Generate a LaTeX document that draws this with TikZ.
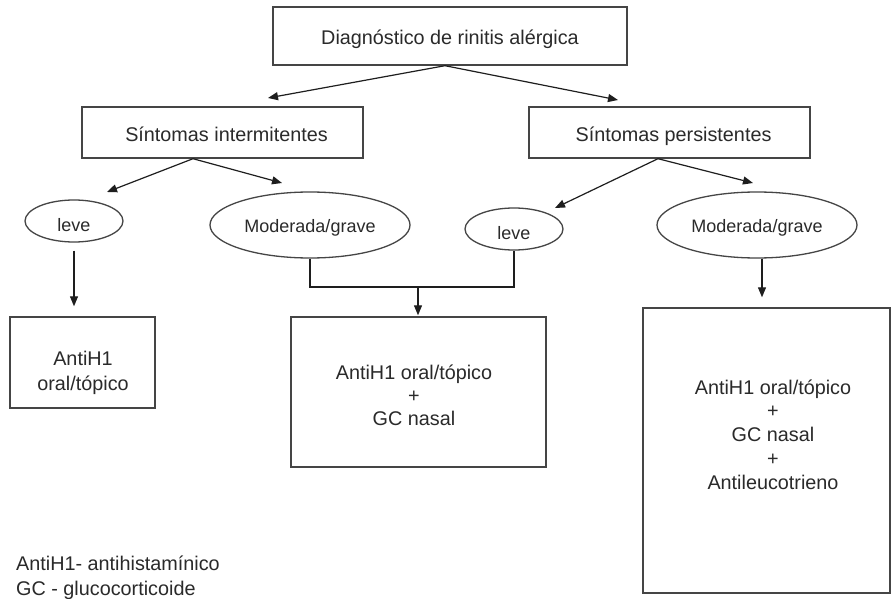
\documentclass[tikz,border=0pt]{standalone}
\usepackage{fontspec}
\setmainfont{Liberation Sans}
\usetikzlibrary{arrows.meta,shapes.geometric,calc}
\definecolor{linec}{HTML}{454545}
\definecolor{arrc}{HTML}{1E1E1E}
\definecolor{txtc}{HTML}{2A2A2A}
\begin{document}
\begin{tikzpicture}[x=1pt,y=-1pt,
  box/.style={draw=linec, line width=1.4pt, rectangle, inner sep=0pt, font=\fontsize{19.8}{24}\selectfont, text=txtc, align=center, text height=20pt, text depth=2pt},
  oval/.style={draw=linec, line width=1.3pt, ellipse, inner sep=0pt, font=\fontsize{18}{21}\selectfont, text=txtc},
  lbl/.style={inner sep=0pt, font=\fontsize{19.8}{24}\selectfont, text=txtc, align=center},
  conn/.style={draw=arrc, line width=1.2pt},
  arr/.style={conn, -{Triangle[length=10pt,width=8pt]}}]
\useasboundingbox[fill=white] (0,0) rectangle (892,599);

% boxes
\node[box, minimum width=354, minimum height=58] (diag) at (450,36) {Diagnóstico de rinitis alérgica};
\node[box, minimum width=281, minimum height=51] (int) at (222.5,132.5) {\hspace*{8pt}Síntomas intermitentes};
\node[box, minimum width=281, minimum height=51] (per) at (669.5,132.5) {\hspace*{8pt}Síntomas persistentes};

% ellipses
\node[oval, minimum width=98, minimum height=42, text height=21pt, text depth=0pt] (leve1) at (74,221) {leve};
\node[oval, minimum width=200, minimum height=66, text height=19pt, text depth=3pt] (mod1) at (310,225) {Moderada/grave};
\node[oval, minimum width=98, minimum height=42, text height=21pt, text depth=0pt] (leve2) at (514,229) {leve};
\node[oval, minimum width=200, minimum height=66, text height=19pt, text depth=3pt] (mod2) at (757,225) {Moderada/grave};

% treatment boxes
\node[box, minimum width=145, minimum height=91] (b1) at (82.5,362.5) {};
\node[lbl] (b1t) at (83,372.5) {AntiH1\\[1pt]oral/tópico};
\node[box, minimum width=255, minimum height=150] (b2) at (418.5,392) {};
\node[lbl, font=\fontsize{19.8}{23}\selectfont] (b2t) at (414,395) {AntiH1 oral/tópico\\+\\GC nasal};
\node[box, minimum width=247, minimum height=285] (b3) at (766.5,450.5) {};
\node[lbl, font=\fontsize{19.8}{23.7}\selectfont] (b3t) at (773,434.5) {AntiH1 oral/tópico\\+\\GC nasal\\+\\Antileucotrieno};

% legend
\node[lbl, anchor=west, align=left, font=\fontsize{19.8}{25}\selectfont] (legend) at (16,577.5) {AntiH1- antihistamínico\\GC - glucocorticoide};

% arrow end points
\coordinate (dL) at (268,98);
\coordinate (dR) at (618,100);
\coordinate (iL) at (107,192);
\coordinate (iR) at (282,183);
\coordinate (pL) at (555,208);
\coordinate (pR) at (753,183);
\coordinate (join) at (418,287);

% connectors
\draw[arr] ([xshift=-5pt]diag.south) -- (dL);
\draw[arr] ([xshift=-5pt]diag.south) -- (dR);
\draw[arr] ([xshift=-29.5pt]int.south) -- (iL);
\draw[arr] ([xshift=-29.5pt]int.south) -- (iR);
\draw[arr] ([xshift=-11.5pt]per.south) -- (pL);
\draw[arr] ([xshift=-11.5pt]per.south) -- (pR);

\draw[arr] ([yshift=-8pt]leve1.south) -- ([yshift=10pt]leve1.south |- b1.north);
\draw[conn] (mod1.south) |- (join) -| (leve2.south);
\draw[arr] (join) -- ([yshift=1pt]join |- b2.north);
\draw[arr] ([xshift=5pt]mod2.south) -- ([xshift=5pt,yshift=10pt]mod2.south |- b3.north);
\end{tikzpicture}
\end{document}
